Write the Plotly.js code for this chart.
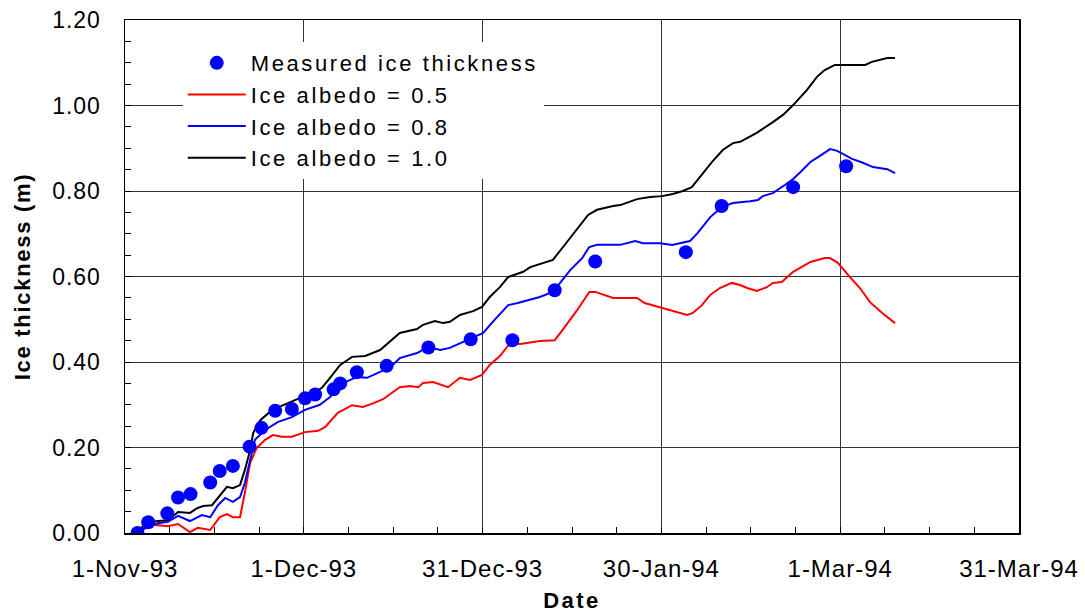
<!DOCTYPE html>
<html>
<head>
<meta charset="utf-8">
<script src="https://cdn.plot.ly/plotly-3.0.1.min.js"></script>
<style>
html,body{margin:0;padding:0;background:#fff;}
#chart{width:1085px;height:615px;}
.legendtext{letter-spacing:2.6px;}
#chart .xtick text, #chart .ytick text{letter-spacing:1px;}
#chart .g-xtitle text{letter-spacing:2.5px;}
#chart .g-ytitle text{letter-spacing:1.7px;}
</style>
</head>
<body>
<div id="chart"></div>
<script>
// Days since 1-Nov-93
const tickDays = [0, 30, 60, 90, 120, 150];
const tickLabels = ["1-Nov-93", "1-Dec-93", "31-Dec-93", "30-Jan-94", "1-Mar-94", "31-Mar-94"];

const measuredDays = [2.1,3.9,7.1,8.9,11,14.3,15.9,18.1,20.9,22.9,25.2,28,30.2,31.9,35,36.1,38.9,43.9,50.9,58,65,72.1,78.9,94.1,100.1,112.1,121];
const measuredVals = [0.00,0.025,0.046,0.083,0.091,0.118,0.145,0.157,0.202,0.246,0.286,0.290,0.315,0.324,0.336,0.350,0.376,0.391,0.434,0.453,0.451,0.568,0.635,0.657,0.765,0.809,0.858];

const albedo05Days = [2.1,3.5,5,7.2,8.9,10.9,12.2,14.3,15.9,17.1,18.1,19.3,20.1,21,22.1,23.5,24.8,26.3,28,30.2,32.4,33.6,35.7,38.1,39.9,41.4,43.3,46.1,47.8,49.2,50,51.7,54.2,56.2,57.9,59.9,61.2,62.9,64.6,66.3,69.6,72.1,73.3,75.8,77.9,78.9,81.9,85.9,87.2,90.1,94.3,95.3,96.8,98.2,99.8,101.8,103.2,104.4,106,107.7,108.7,110.2,112.1,115,117.4,118.3,119.6,121.6,123.3,125,127,129.2];
const albedo05Vals = [0,0.015,0.019,0.016,0.021,0.002,0.012,0.007,0.037,0.044,0.037,0.037,0.094,0.164,0.199,0.218,0.229,0.225,0.225,0.236,0.239,0.248,0.281,0.299,0.295,0.302,0.313,0.341,0.344,0.341,0.351,0.353,0.341,0.363,0.358,0.370,0.393,0.414,0.444,0.442,0.449,0.451,0.473,0.520,0.564,0.564,0.550,0.550,0.538,0.526,0.510,0.515,0.533,0.557,0.573,0.585,0.580,0.573,0.566,0.575,0.585,0.587,0.611,0.634,0.643,0.643,0.632,0.599,0.573,0.540,0.515,0.491];

const albedo08Days = [2.1,3.5,5.5,7.2,8.9,10.9,12.9,14.3,15.6,16.8,18.1,19.3,20.1,21,21.8,23.5,25.7,28,30.2,32.7,34.4,35.7,37,38.9,40.6,42.8,44.5,46.1,49,50.8,52.9,54.5,56.2,57.9,60.1,61.7,64.3,65.9,69.6,71.8,74.7,76.7,77.9,79.2,83.1,85.6,86.9,89.8,91.8,93.1,94.8,96.1,98.2,100.2,102,104.9,106.2,107,108.7,110.7,112.1,113.3,115,116.6,118.3,119.5,120.5,122,123.8,125.5,127.9,129.2];
const albedo08Vals = [0,0.012,0.023,0.026,0.040,0.028,0.042,0.037,0.065,0.082,0.073,0.084,0.117,0.171,0.218,0.241,0.260,0.271,0.288,0.300,0.318,0.337,0.353,0.365,0.363,0.377,0.388,0.409,0.421,0.435,0.428,0.433,0.444,0.454,0.468,0.494,0.533,0.538,0.552,0.564,0.615,0.643,0.669,0.674,0.674,0.683,0.678,0.678,0.674,0.678,0.683,0.702,0.739,0.763,0.772,0.776,0.779,0.788,0.795,0.814,0.828,0.844,0.868,0.882,0.898,0.894,0.887,0.875,0.866,0.856,0.851,0.842];

const albedo10Days = [2.1,3.4,5.5,7.2,8.9,10.9,12.1,13.1,14.6,16.3,17.1,18.1,19.3,20.1,21,21.5,22.7,24.7,27.3,29.7,31.4,33,34.4,36.1,38.1,40.3,42.8,46.1,49,50,52,53.4,54.5,56.2,58.4,59.9,61.2,62.9,64.3,66.8,68,71.8,73.5,75.8,77.7,79.2,81.9,83.1,85.9,88.1,90.1,91.9,93.6,95.1,96.5,98.5,100.3,102,103.2,106,108.7,110.4,112.1,113.6,114.4,116.1,117.4,119.1,124.2,125.3,127.9,129.2];
const albedo10Vals = [0,0.023,0.028,0.030,0.049,0.047,0.058,0.063,0.065,0.096,0.108,0.105,0.112,0.147,0.194,0.234,0.264,0.288,0.304,0.318,0.327,0.339,0.363,0.393,0.412,0.414,0.428,0.468,0.477,0.487,0.496,0.491,0.494,0.510,0.519,0.529,0.552,0.575,0.599,0.611,0.622,0.639,0.669,0.709,0.744,0.756,0.765,0.767,0.781,0.786,0.788,0.793,0.800,0.809,0.833,0.868,0.896,0.912,0.915,0.936,0.961,0.978,1.001,1.025,1.036,1.067,1.083,1.095,1.095,1.102,1.111,1.111];

const seriesNames = ["Measured ice thickness", "Ice albedo = 0.5", "Ice albedo = 0.8", "Ice albedo = 1.0"];

const FONT = "Liberation Sans, Arial, Helvetica, sans-serif";

const traces = [
  {x: albedo05Days, y: albedo05Vals, name: seriesNames[1], mode: "lines", line: {color: "#ff0000", width: 2}, legendrank: 2},
  {x: albedo08Days, y: albedo08Vals, name: seriesNames[2], mode: "lines", line: {color: "#0000ff", width: 2}, legendrank: 3},
  {x: albedo10Days, y: albedo10Vals, name: seriesNames[3], mode: "lines", line: {color: "#000000", width: 2}, legendrank: 4},
  {x: measuredDays, y: measuredVals, name: seriesNames[0], mode: "markers", marker: {color: "#0000ff", size: 14}, legendrank: 1}
];

const layout = {
  width: 1085, height: 615,
  margin: {l: 125, r: 66, t: 20, b: 82},
  paper_bgcolor: "#fff", plot_bgcolor: "#fff",
  font: {family: FONT, color: "#000", size: 23},
  showlegend: true,
  legend: {
    x: 0.0646, y: 0.957, xanchor: "left", yanchor: "top",
    bgcolor: "#fff", borderwidth: 0,
    font: {family: FONT, size: 22, color: "#000"},
    itemwidth: 58, tracegroupgap: 0
  },
  xaxis: {
    range: [0, 150], tickmode: "array", tickvals: tickDays, ticktext: tickLabels,
    ticks: "inside", ticklen: 6, tickcolor: "#000",
    showgrid: true, gridcolor: "#333", gridwidth: 1,
    showline: true, linecolor: "#000", linewidth: 1.5, mirror: true,
    zeroline: false, tickfont: {size: 24, family: FONT}, ticklabelstandoff: 14,
    minor: {dtick: 7.5, tick0: 0, ticks: "inside", ticklen: 6, tickcolor: "#000", showgrid: false},
    title: {text: "<b>Date</b>", font: {size: 22, family: FONT}, standoff: 11}
  },
  yaxis: {
    range: [0, 1.2], tick0: 0, dtick: 0.2, tickformat: ".2f",
    ticks: "inside", ticklen: 6, tickcolor: "#000",
    showgrid: true, gridcolor: "#333", gridwidth: 1,
    showline: true, linecolor: "#000", linewidth: 1.5, mirror: true,
    zeroline: false, tickfont: {size: 23, family: FONT}, ticklabelstandoff: 18,
    minor: {dtick: 0.05, tick0: 0, ticks: "inside", ticklen: 6, tickcolor: "#000", showgrid: false},
    title: {text: "<b>Ice thickness (m)</b>", font: {size: 22, family: FONT}, standoff: 19}
  }
};

Plotly.newPlot("chart", traces, layout, {displayModeBar: false, staticPlot: true});
</script>
</body>
</html>
